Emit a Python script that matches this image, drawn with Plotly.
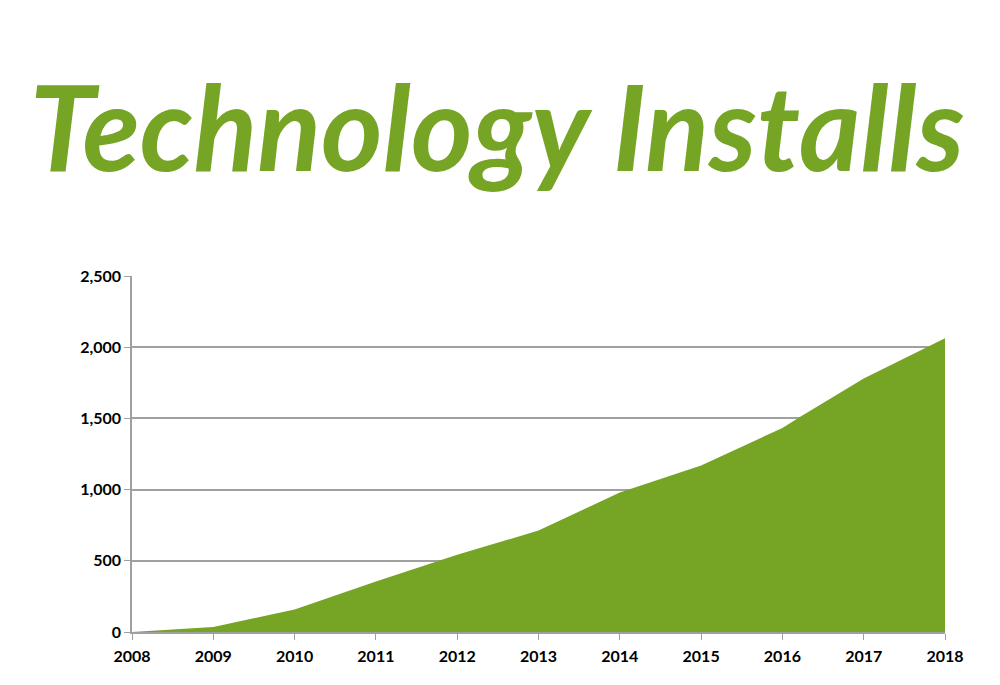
import plotly.graph_objects as go

years = [2008, 2008.25, 2009, 2010, 2011, 2012, 2013, 2014, 2015, 2016, 2016.22, 2017, 2018]
installs = [0, 8, 35, 158, 355, 542, 712, 980, 1170, 1433, 1512, 1780, 2063]
tick_years = list(range(2008, 2019))
y_ticks = [0, 500, 1000, 1500, 2000, 2500]

green = '#76a425'
grey = '#a0a0a0'

fig = go.Figure()
fig.add_trace(go.Scatter(x=years, y=installs, mode='lines', fill='tozeroy',
                         line=dict(color=green, width=0), fillcolor=green,
                         hoverinfo='x+y'))

# page is drawn with an 8px body margin, so margins are shifted by 8
fig.update_layout(
    width=1000, height=685,
    paper_bgcolor='white', plot_bgcolor='white',
    margin=dict(l=124, r=63, t=268, b=61),
    showlegend=False,
    title=dict(text='Technology Installs', x=0.489, xanchor='center',
               y=0.822, yanchor='middle',
               font=dict(family='Lato', size=118, color=green,
                         weight='bold', style='italic')),
    font=dict(family='Lato', size=16, color='black'),
)
tick_font = dict(family='Lato', size=16, color='black', weight='bold')
fig.update_xaxes(range=[2008, 2018], tickvals=tick_years, ticktext=[str(t) for t in tick_years],
                 showgrid=False, showline=True, linecolor=grey, linewidth=1.5,
                 ticks='outside', ticklen=6, tickcolor=grey, ticklabelstandoff=3,
                 tickfont=tick_font, zeroline=False)
fig.update_yaxes(range=[0, 2500], tickvals=y_ticks, tickformat=',',
                 showgrid=True, gridcolor=grey, gridwidth=1.5,
                 showline=True, linecolor=grey, linewidth=1.5,
                 ticks='outside', ticklen=6, tickcolor=grey,
                 tickfont=tick_font, zeroline=False)

fig.write_html("out.html")
